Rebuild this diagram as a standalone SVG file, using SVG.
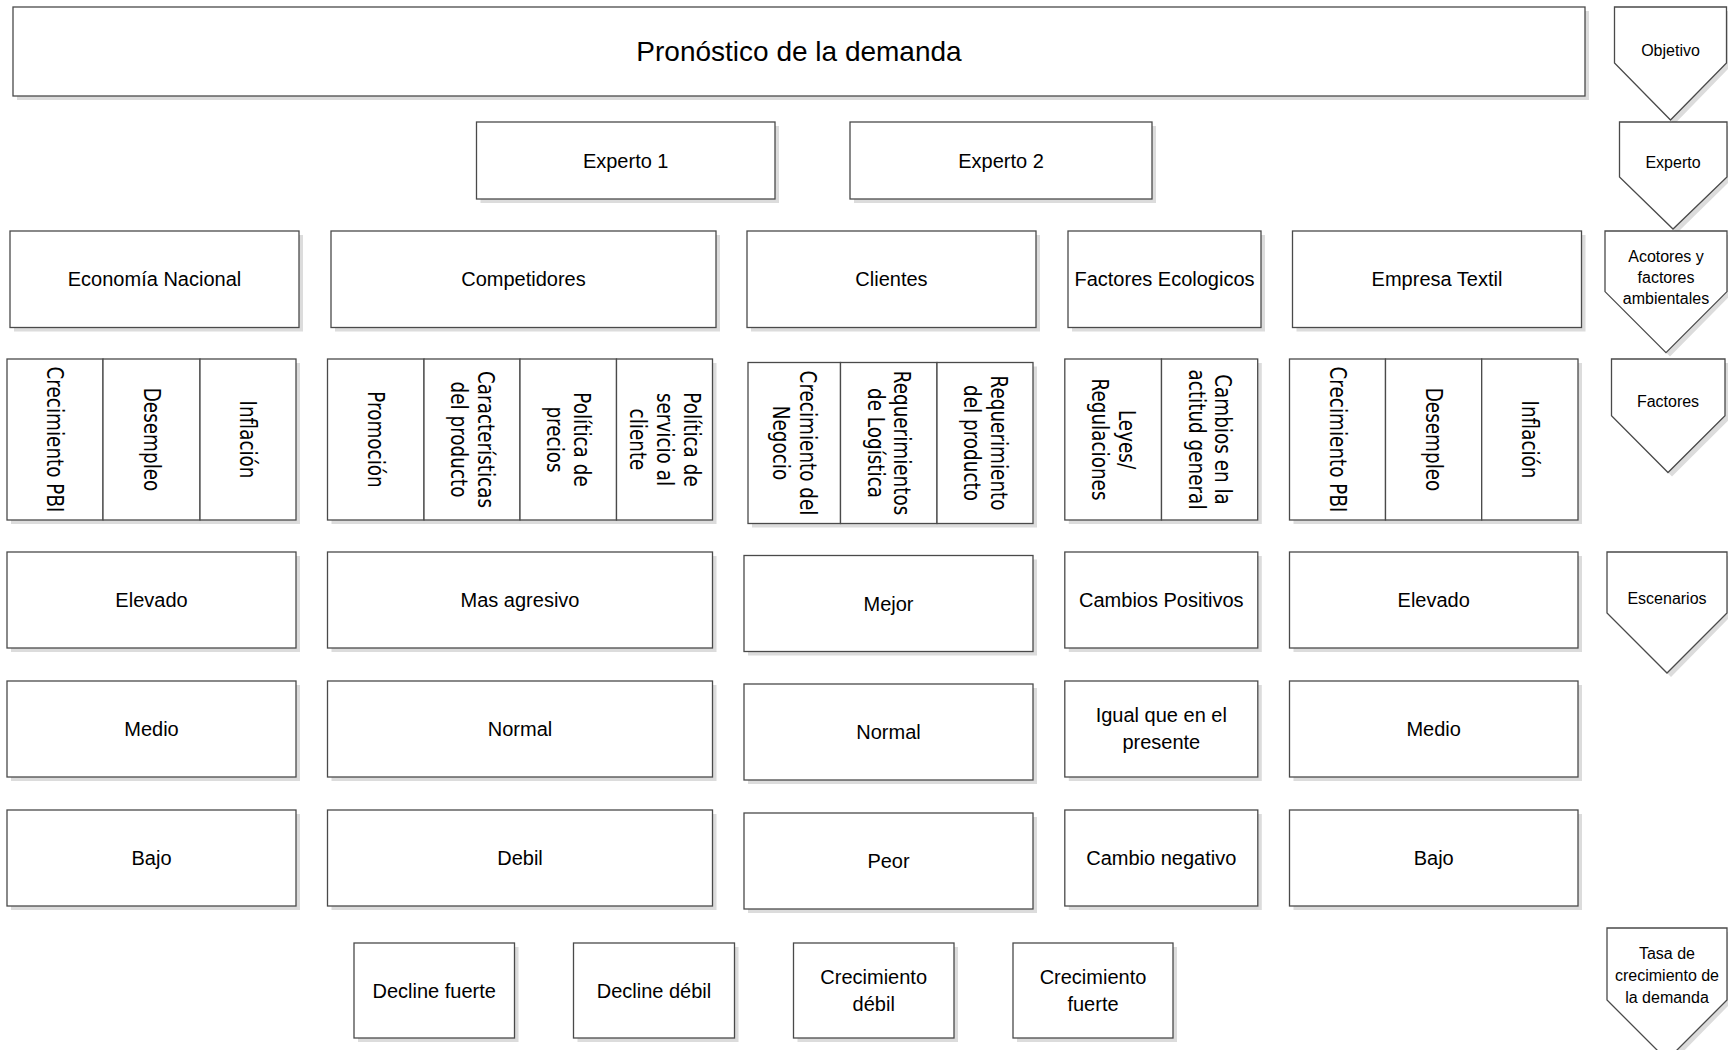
<svg xmlns="http://www.w3.org/2000/svg" width="1728" height="1050" viewBox="0 0 1728 1050">
<style>
.bx{fill:#fff;stroke:#4a4a4a;stroke-width:1.3}
.sh{fill:#dcdcdc}
.t{font-family:"Liberation Sans",Arial,sans-serif;font-size:20px;fill:#000;text-anchor:middle;dominant-baseline:central}
.tt{font-size:28px}
.p{font-size:16px}
.v{font-family:"DejaVu Sans",Verdana,sans-serif;font-size:23px;fill:#000;text-anchor:middle;dominant-baseline:central}
</style>
<rect width="1728" height="1050" fill="#fff"/>
<g id="connectors"/>

<g id="objetivo-main">
<rect class="sh" x="17" y="11" width="1572" height="89"/>
<rect class="bx" x="13" y="7" width="1572" height="89"/>
<text class="t tt" x="799" y="51">Pronóstico de la demanda</text>
</g>

<g id="experto1">
<rect class="sh" x="480.5" y="126" width="298.5" height="77"/>
<rect class="bx" x="476.5" y="122" width="298.5" height="77"/>
<text class="t" x="625.7" y="160.5">Experto 1</text>
</g>
<g id="experto2">
<rect class="sh" x="854" y="126" width="302" height="77"/>
<rect class="bx" x="850" y="122" width="302" height="77"/>
<text class="t" x="1001" y="160.5">Experto 2</text>
</g>

<g id="economia">
<rect class="sh" x="14" y="235" width="289" height="96.5"/>
<rect class="bx" x="10" y="231" width="289" height="96.5"/>
<text class="t" x="154.5" y="279">Economía Nacional</text>
</g>
<g id="competidores">
<rect class="sh" x="335" y="235" width="385" height="96.5"/>
<rect class="bx" x="331" y="231" width="385" height="96.5"/>
<text class="t" x="523.5" y="279">Competidores</text>
</g>
<g id="clientes">
<rect class="sh" x="751" y="235" width="289" height="96.5"/>
<rect class="bx" x="747" y="231" width="289" height="96.5"/>
<text class="t" x="891.5" y="279">Clientes</text>
</g>
<g id="ecologicos">
<rect class="sh" x="1072" y="235" width="193" height="96.5"/>
<rect class="bx" x="1068" y="231" width="193" height="96.5"/>
<text class="t" x="1164.5" y="279">Factores Ecologicos</text>
</g>
<g id="empresa">
<rect class="sh" x="1296.5" y="235" width="289" height="96.5"/>
<rect class="bx" x="1292.5" y="231" width="289" height="96.5"/>
<text class="t" x="1437" y="279">Empresa Textil</text>
</g>

<!-- Factores -->
<rect class="sh" x="11" y="363" width="289" height="161"/>
<rect class="sh" x="331.5" y="363" width="385" height="161"/>
<rect class="sh" x="752" y="366.5" width="285" height="161"/>
<rect class="sh" x="1068.8" y="363" width="193" height="161"/>
<rect class="sh" x="1293.5" y="363" width="288.5" height="161"/>

<g id="f-eco-pbi">
<rect class="bx" x="7" y="359" width="96" height="161"/>
<text class="v" transform="translate(55,439.5) rotate(90) scale(0.8,1)">Crecimiento PBI</text>
</g>
<g id="f-eco-desempleo">
<rect class="bx" x="103" y="359" width="97" height="161"/>
<text class="v" transform="translate(151.5,439.5) rotate(90) scale(0.8,1)">Desempleo</text>
</g>
<g id="f-eco-inflacion">
<rect class="bx" x="200" y="359" width="96" height="161"/>
<text class="v" transform="translate(248,439.5) rotate(90) scale(0.8,1)">Inflación</text>
</g>

<g id="f-comp-promocion">
<rect class="bx" x="327.5" y="359" width="96.5" height="161"/>
<text class="v" transform="translate(375.7,439.5) rotate(90) scale(0.8,1)">Promoción</text>
</g>
<g id="f-comp-caract">
<rect class="bx" x="424" y="359" width="96" height="161"/>
<text class="v" transform="translate(472,439.5) rotate(90) scale(0.8,1)"><tspan x="0" y="-13.3">Características</tspan><tspan x="0" y="13.3">del producto</tspan></text>
</g>
<g id="f-comp-precios">
<rect class="bx" x="520" y="359" width="96.5" height="161"/>
<text class="v" transform="translate(568,439.5) rotate(90) scale(0.8,1)"><tspan x="0" y="-13.3">Política de</tspan><tspan x="0" y="13.3">precios</tspan></text>
</g>
<g id="f-comp-servicio">
<rect class="bx" x="616.5" y="359" width="96" height="161"/>
<text class="v" transform="translate(664.5,439.5) rotate(90) scale(0.8,1)"><tspan x="0" y="-27">Política de</tspan><tspan x="0" y="0">servicio al</tspan><tspan x="0" y="27">cliente</tspan></text>
</g>

<g id="f-cli-crecimiento">
<rect class="bx" x="748" y="362.5" width="92.5" height="161"/>
<text class="v" transform="translate(794,443) rotate(90) scale(0.8,1)"><tspan x="0" y="-13.3">Crecimiento del</tspan><tspan x="0" y="13.3">Negocio</tspan></text>
</g>
<g id="f-cli-logistica">
<rect class="bx" x="840.5" y="362.5" width="96.5" height="161"/>
<text class="v" transform="translate(888.7,443) rotate(90) scale(0.8,1)"><tspan x="0" y="-13.3">Requerimientos</tspan><tspan x="0" y="13.3">de Logística</tspan></text>
</g>
<g id="f-cli-producto">
<rect class="bx" x="937" y="362.5" width="96" height="161"/>
<text class="v" transform="translate(985,443) rotate(90) scale(0.8,1)"><tspan x="0" y="-13.3">Requerimiento</tspan><tspan x="0" y="13.3">del producto</tspan></text>
</g>

<g id="f-ecol-leyes">
<rect class="bx" x="1064.8" y="359" width="96.7" height="161"/>
<text class="v" transform="translate(1113,439.5) rotate(90) scale(0.8,1)"><tspan x="0" y="-13.3">Leyes/</tspan><tspan x="0" y="13.3">Regulaciones</tspan></text>
</g>
<g id="f-ecol-actitud">
<rect class="bx" x="1161.5" y="359" width="96.2" height="161"/>
<text class="v" transform="translate(1209.6,439.5) rotate(90) scale(0.8,1)"><tspan x="0" y="-13.3">Cambios en la</tspan><tspan x="0" y="13.3">actitud general</tspan></text>
</g>

<g id="f-emp-pbi">
<rect class="bx" x="1289.5" y="359" width="96" height="161"/>
<text class="v" transform="translate(1337.5,439.5) rotate(90) scale(0.8,1)">Crecimiento PBI</text>
</g>
<g id="f-emp-desempleo">
<rect class="bx" x="1385.5" y="359" width="96.2" height="161"/>
<text class="v" transform="translate(1433.6,439.5) rotate(90) scale(0.8,1)">Desempleo</text>
</g>
<g id="f-emp-inflacion">
<rect class="bx" x="1481.7" y="359" width="96.3" height="161"/>
<text class="v" transform="translate(1530,439.5) rotate(90) scale(0.8,1)">Inflación</text>
</g>

<!-- Escenarios -->
<g id="s-eco-1">
<rect class="sh" x="11" y="556" width="289" height="96"/>
<rect class="bx" x="7" y="552" width="289" height="96"/>
<text class="t" x="151.5" y="600">Elevado</text>
</g>
<g id="s-comp-1">
<rect class="sh" x="331.5" y="556" width="385" height="96"/>
<rect class="bx" x="327.5" y="552" width="385" height="96"/>
<text class="t" x="520" y="600">Mas agresivo</text>
</g>
<g id="s-cli-1">
<rect class="sh" x="748" y="559.5" width="289" height="96"/>
<rect class="bx" x="744" y="555.5" width="289" height="96"/>
<text class="t" x="888.5" y="603.5">Mejor</text>
</g>
<g id="s-ecol-1">
<rect class="sh" x="1068.8" y="556" width="193" height="96"/>
<rect class="bx" x="1064.8" y="552" width="193" height="96"/>
<text class="t" x="1161.3" y="600">Cambios Positivos</text>
</g>
<g id="s-emp-1">
<rect class="sh" x="1293.5" y="556" width="288.5" height="96"/>
<rect class="bx" x="1289.5" y="552" width="288.5" height="96"/>
<text class="t" x="1433.7" y="600">Elevado</text>
</g>

<g id="s-eco-2">
<rect class="sh" x="11" y="685" width="289" height="96"/>
<rect class="bx" x="7" y="681" width="289" height="96"/>
<text class="t" x="151.5" y="729">Medio</text>
</g>
<g id="s-comp-2">
<rect class="sh" x="331.5" y="685" width="385" height="96"/>
<rect class="bx" x="327.5" y="681" width="385" height="96"/>
<text class="t" x="520" y="729">Normal</text>
</g>
<g id="s-cli-2">
<rect class="sh" x="748" y="688" width="289" height="96"/>
<rect class="bx" x="744" y="684" width="289" height="96"/>
<text class="t" x="888.5" y="732">Normal</text>
</g>
<g id="s-ecol-2">
<rect class="sh" x="1068.8" y="685" width="193" height="96"/>
<rect class="bx" x="1064.8" y="681" width="193" height="96"/>
<text class="t" x="1161.3" y="715">Igual que en el</text>
<text class="t" x="1161.3" y="742">presente</text>
</g>
<g id="s-emp-2">
<rect class="sh" x="1293.5" y="685" width="288.5" height="96"/>
<rect class="bx" x="1289.5" y="681" width="288.5" height="96"/>
<text class="t" x="1433.7" y="729">Medio</text>
</g>

<g id="s-eco-3">
<rect class="sh" x="11" y="814" width="289" height="96"/>
<rect class="bx" x="7" y="810" width="289" height="96"/>
<text class="t" x="151.5" y="858">Bajo</text>
</g>
<g id="s-comp-3">
<rect class="sh" x="331.5" y="814" width="385" height="96"/>
<rect class="bx" x="327.5" y="810" width="385" height="96"/>
<text class="t" x="520" y="858">Debil</text>
</g>
<g id="s-cli-3">
<rect class="sh" x="748" y="817" width="289" height="96"/>
<rect class="bx" x="744" y="813" width="289" height="96"/>
<text class="t" x="888.5" y="861">Peor</text>
</g>
<g id="s-ecol-3">
<rect class="sh" x="1068.8" y="814" width="193" height="96"/>
<rect class="bx" x="1064.8" y="810" width="193" height="96"/>
<text class="t" x="1161.3" y="858">Cambio negativo</text>
</g>
<g id="s-emp-3">
<rect class="sh" x="1293.5" y="814" width="288.5" height="96"/>
<rect class="bx" x="1289.5" y="810" width="288.5" height="96"/>
<text class="t" x="1433.7" y="858">Bajo</text>
</g>

<!-- Tasa -->
<g id="t-decline-fuerte">
<rect class="sh" x="358" y="947" width="160.5" height="95"/>
<rect class="bx" x="354" y="943" width="160.5" height="95"/>
<text class="t" x="434.2" y="990.5">Decline fuerte</text>
</g>
<g id="t-decline-debil">
<rect class="sh" x="577.5" y="947" width="161" height="95"/>
<rect class="bx" x="573.5" y="943" width="161" height="95"/>
<text class="t" x="654" y="990.5">Decline débil</text>
</g>
<g id="t-crec-debil">
<rect class="sh" x="797.5" y="947" width="160.5" height="95"/>
<rect class="bx" x="793.5" y="943" width="160.5" height="95"/>
<text class="t" x="873.7" y="977">Crecimiento</text>
<text class="t" x="873.7" y="1004">débil</text>
</g>
<g id="t-crec-fuerte">
<rect class="sh" x="1017" y="947" width="160" height="95"/>
<rect class="bx" x="1013" y="943" width="160" height="95"/>
<text class="t" x="1093" y="977">Crecimiento</text>
<text class="t" x="1093" y="1004">fuerte</text>
</g>

<!-- Right column labels -->
<g id="lbl-objetivo">
<path class="sh" d="M1618.5,11 H1730 V67 L1674.5,124 L1618.5,67 Z"/>
<path class="bx" d="M1614.5,7 H1726.5 V63 L1670.5,120 L1614.5,63 Z"/>
<text class="t p" x="1670.5" y="50">Objetivo</text>
</g>
<g id="lbl-experto">
<path class="sh" d="M1623.5,126 H1730 V181 L1677,233 L1623.5,181 Z"/>
<path class="bx" d="M1619.5,122 H1727 V177 L1673,229 L1619.5,177 Z"/>
<text class="t p" x="1673" y="162">Experto</text>
</g>
<g id="lbl-actores">
<path class="sh" d="M1609,235 H1730 V295.6 L1670,356.6 L1609,295.6 Z"/>
<path class="bx" d="M1605,231 H1727 V291.6 L1666,352.6 L1605,291.6 Z"/>
<text class="t p" x="1666" y="256">Acotores y</text>
<text class="t p" x="1666" y="277">factores</text>
<text class="t p" x="1666" y="298">ambientales</text>
</g>
<g id="lbl-factores">
<path class="sh" d="M1615.5,363 H1729 V419.8 L1672,476.5 L1615.5,419.8 Z"/>
<path class="bx" d="M1611.5,359 H1725 V415.8 L1668,472.5 L1611.5,415.8 Z"/>
<text class="t p" x="1668" y="401">Factores</text>
</g>
<g id="lbl-escenarios">
<path class="sh" d="M1611,556 H1730 V617 L1671,677 L1611,617 Z"/>
<path class="bx" d="M1607,552 H1727 V613 L1667,673 L1607,613 Z"/>
<text class="t p" x="1667" y="598">Escenarios</text>
</g>
<g id="lbl-tasa">
<path class="sh" d="M1611,932 H1730 V1004 L1671,1064 L1611,1004 Z"/>
<path class="bx" d="M1607,928 H1727 V1000 L1667,1060 L1607,1000 Z"/>
<text class="t p" x="1667" y="953">Tasa de</text>
<text class="t p" x="1667" y="975">crecimiento de</text>
<text class="t p" x="1667" y="997">la demanda</text>
</g>
</svg>
